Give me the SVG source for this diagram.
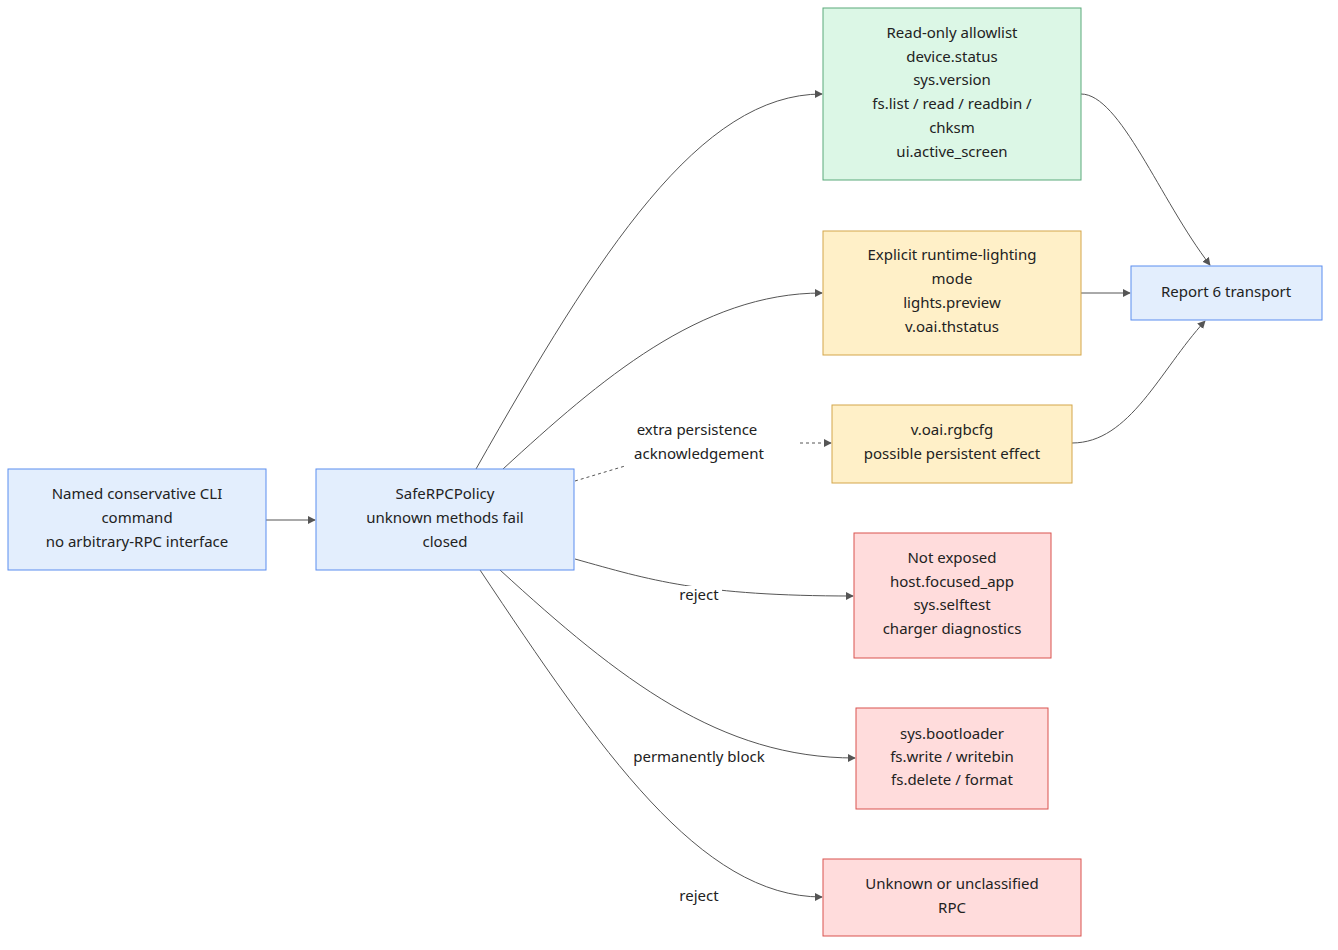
<svg xmlns="http://www.w3.org/2000/svg" width="1338" height="950" viewBox="0 0 1338 950">
<style>
text{font-family:"Noto Sans","Open Sans",sans-serif;font-size:15px;fill:#222;text-anchor:middle;dominant-baseline:middle}
.b{fill:#e3eefd;stroke:#5b8def}
.g{fill:#dcf7e6;stroke:#5aa97a}
.y{fill:#fff0c8;stroke:#d4a64a}
.r{fill:#ffdcdc;stroke:#d9534f}
.e{fill:none;stroke:#555;stroke-width:1}
.d{stroke-dasharray:3 3}
.lb{fill:#fff}
</style>
<defs><marker id="m" viewBox="0 0 10 10" refX="9" refY="5" markerWidth="8" markerHeight="8" orient="auto"><path d="M0,0L10,5L0,10z" fill="#555"/></marker></defs>
<rect width="1338" height="950" fill="#fff"/>
<g id="edges">
<path class="e" d="M266,520H315" marker-end="url(#m)"/>
<path class="e" d="M476,469C600,250 700,94 822,94" marker-end="url(#m)"/>
<path class="e" d="M503,469C600,380 700,293 822,293" marker-end="url(#m)"/>
<path class="e d" d="M575,481L625,466"/>
<path class="e d" d="M800,443H831" marker-end="url(#m)"/>
<path class="e" d="M575,559C650,580 700,596 853,596" marker-end="url(#m)"/>
<path class="e" d="M500,570C620,680 720,758 855,758" marker-end="url(#m)"/>
<path class="e" d="M480,570C600,750 700,897 822,897" marker-end="url(#m)"/>
<path class="e" d="M1081,94C1120,94 1160,200 1210,265" marker-end="url(#m)"/>
<path class="e" d="M1081,293H1130" marker-end="url(#m)"/>
<path class="e" d="M1072,443C1130,443 1160,370 1205,321" marker-end="url(#m)"/>
<rect class="lb" x="676" y="586" width="46" height="19"/><text x="699" y="596">reject</text>
<rect class="lb" x="632" y="748" width="134" height="20"/><text x="699" y="758">permanently block</text>
<rect class="lb" x="676" y="888" width="46" height="19"/><text x="699" y="897">reject</text>
<text x="697" y="431">extra persistence</text><text x="699" y="455">acknowledgement</text>
</g>
<g id="cli"><rect class="b" x="8" y="469" width="258" height="101"/><text x="137" y="495">Named conservative CLI</text><text x="137" y="519">command</text><text x="137" y="543">no arbitrary-RPC interface</text></g>
<g id="policy"><rect class="b" x="316" y="469" width="258" height="101"/><text x="445" y="495">SafeRPCPolicy</text><text x="445" y="519">unknown methods fail</text><text x="445" y="543">closed</text></g>
<g id="allow"><rect class="g" x="823" y="8" width="258" height="172"/><text x="952" y="34">Read-only allowlist</text><text x="952" y="58">device.status</text><text x="952" y="81">sys.version</text><text x="952" y="105">fs.list / read / readbin /</text><text x="952" y="129">chksm</text><text x="952" y="153">ui.active_screen</text></g>
<g id="light"><rect class="y" x="823" y="231" width="258" height="124"/><text x="952" y="256">Explicit runtime-lighting</text><text x="952" y="280">mode</text><text x="952" y="304">lights.preview</text><text x="952" y="328">v.oai.thstatus</text></g>
<g id="rgb"><rect class="y" x="832" y="405" width="240" height="78"/><text x="952" y="431">v.oai.rgbcfg</text><text x="952" y="455">possible persistent effect</text></g>
<g id="notexp"><rect class="r" x="854" y="533" width="197" height="125"/><text x="952" y="559">Not exposed</text><text x="952" y="583">host.focused_app</text><text x="952" y="606">sys.selftest</text><text x="952" y="630">charger diagnostics</text></g>
<g id="block"><rect class="r" x="856" y="708" width="192" height="101"/><text x="952" y="735">sys.bootloader</text><text x="952" y="758">fs.write / writebin</text><text x="952" y="781">fs.delete / format</text></g>
<g id="unknown"><rect class="r" x="823" y="859" width="258" height="77"/><text x="952" y="885">Unknown or unclassified</text><text x="952" y="909">RPC</text></g>
<g id="report"><rect class="b" x="1131" y="266" width="191" height="54"/><text x="1226" y="293">Report 6 transport</text></g>
</svg>
